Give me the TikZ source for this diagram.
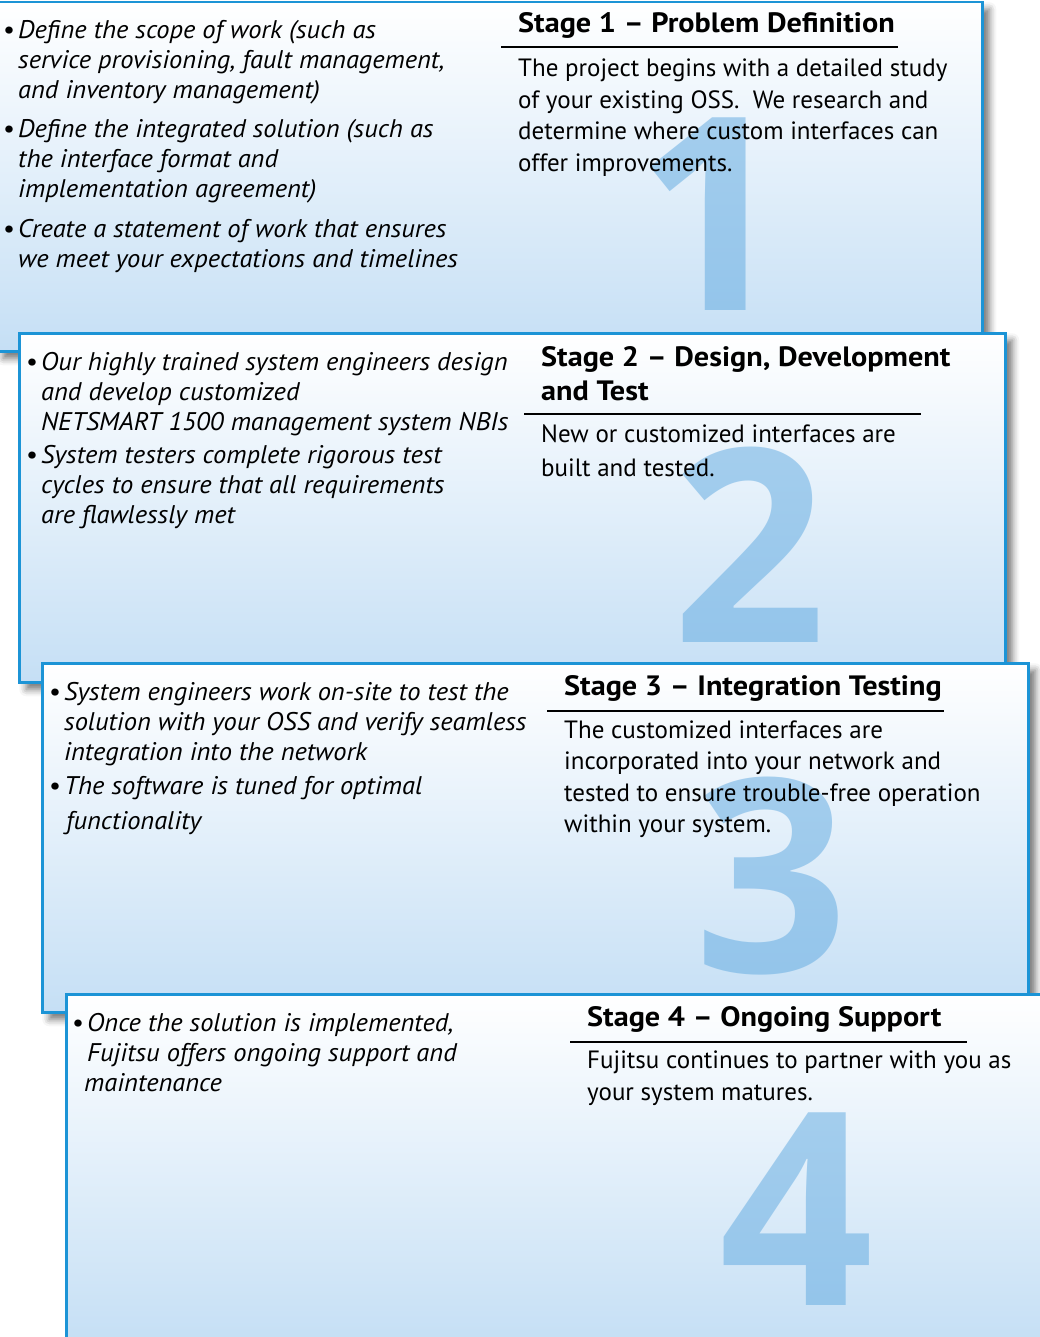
\documentclass[tikz,border=0pt]{standalone}
\usepackage{fontspec}
\setmainfont{PT Sans}
\newfontfamily\digitfont{Open Sans}
\usetikzlibrary{shadows.blur}
\definecolor{bordblue}{RGB}{28,148,214}
\definecolor{fillblue}{RGB}{197,223,245}
\definecolor{digblue}{RGB}{93,168,224}
\tikzset{
 stagebox/.style={draw=bordblue, line width=2.5pt, top color=white, bottom color=fillblue,
   minimum width=986pt, minimum height=349pt, anchor=north west, inner sep=0pt,
   blur shadow={shadow xshift=7pt, shadow yshift=-7pt, shadow blur radius=7pt, shadow opacity=55}},
 bigdigit/.style={font=\digitfont\bfseries\fontsize{270}{270}\selectfont, text=digblue, text opacity=0.5, inner sep=0pt, anchor=base},
 bullets/.style={font=\itshape\fontsize{25.5}{30}\selectfont\addfontfeatures{FakeStretch=1.04}, align=left, anchor=base west, inner sep=0pt},
 heading/.style={font=\bfseries\fontsize{28}{34}\selectfont\addfontfeatures{FakeStretch=1.08}, align=left, anchor=base west, inner sep=0pt},
 body/.style={font=\fontsize{25}{31.5}\selectfont, align=left, anchor=base west, inner sep=0pt},
 rulestyle/.style={line width=1.5pt, black}
}
\newcommand{\bul}{\llap{\upshape\textbullet\hspace{3pt}}}
\begin{document}
\begin{tikzpicture}[x=1pt,y=-1pt]
\useasboundingbox (0,0) rectangle (1039,1337);
% ---------- Stage 1
\node[stagebox] (box1) at (-5,1) {};
\node[bigdigit] (d1) at (712,310) {1};
\node[bullets] (b11) at (18,99) {\bul Define the scope of work (such as\\service provisioning, fault management,\\and inventory management)};
\node[bullets] (b12) at (18,198) {\bul Define the integrated solution (such as\\the interface format and\\implementation agreement)};
\node[bullets] (b13) at (18,268) {\bul Create a statement of work that ensures\\we meet your expectations and timelines};
\node[heading] (h1) at (518,33) {Stage 1 – Problem Definition};
\draw[rulestyle] (501,47) -- (898,47);
\node[body] (t1) at (518,171.5) {The project begins with a detailed study\\of your existing OSS.\ \ We research and\\determine where custom interfaces can\\offer improvements.};
% ---------- Stage 2
\node[stagebox] (box2) at (18,332) {};
\node[bigdigit] (d2) at (750,642) {2};
\node[bullets] (b21) at (41,430) {\bul Our highly trained system engineers design\\and develop customized\\NETSMART 1500 management system NBIs};
\node[bullets] (b22) at (41,523) {\bul System testers complete rigorous test\\cycles to ensure that all requirements\\are flawlessly met};
\node[heading] (h2) at (541,400) {Stage 2 – Design, Development\\and Test};
\draw[rulestyle] (524,414) -- (921,414);
\node[body, font=\fontsize{25}{34}\selectfont] (t2) at (541,476) {New or customized interfaces are\\built and tested.};
% ---------- Stage 3
\node[stagebox] (box3) at (41,662) {};
\node[bigdigit] (d3) at (772,972) {3};
\node[bullets] (b31) at (64,760) {\bul System engineers work on-site to test the\\solution with your OSS and verify seamless\\integration into the network};
\node[bullets] (b32) at (64,829) {\bul The software is tuned for optimal\\[5pt]\hspace*{2pt}functionality};
\node[heading] (h3) at (564,695) {Stage 3 – Integration Testing};
\draw[rulestyle] (547,711) -- (944,711);
\node[body] (t3) at (564,832.5) {The customized interfaces are\\incorporated into your network and\\tested to ensure trouble-free operation\\within your system.};
% ---------- Stage 4
\node[stagebox] (box4) at (65,993) {};
\node[bigdigit] (d4) at (797,1305) {4};
\node[bullets] (b41) at (87,1091) {\bul Once the solution is implemented,\\Fujitsu offers ongoing support and\\\hspace*{-3pt}maintenance};
\node[heading] (h4) at (587,1026) {Stage 4 – Ongoing Support};
\draw[rulestyle] (570,1042) -- (967,1042);
\node[body] (t4) at (587,1100) {Fujitsu continues to partner with you as\\your system matures.};
\end{tikzpicture}
\end{document}
